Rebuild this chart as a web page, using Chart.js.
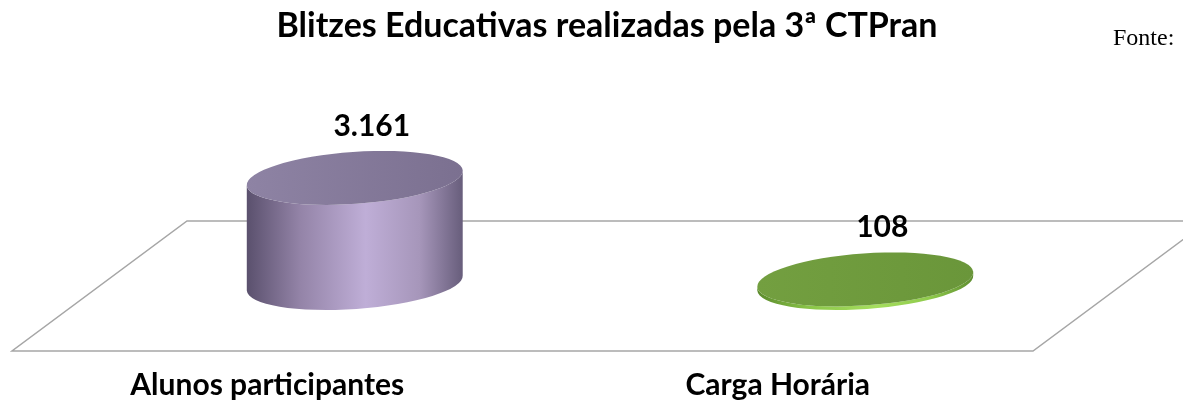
<!DOCTYPE html>
<html>
<head>
<meta charset="utf-8">
<script src="https://cdn.jsdelivr.net/npm/chart.js@4.4.1/dist/chart.umd.min.js"></script>
<style>
  html, body { margin: 0; padding: 0; background: #fff; }
  #wrap { width: 1183px; height: 408px; position: relative; }
</style>
</head>
<body>
<div id="wrap"><canvas id="grafico"></canvas></div>
<script>
// dados
const categorias = ['Alunos participantes', 'Carga Horária'];
const valores = [3161, 108];
const titulo = 'Blitzes Educativas realizadas pela 3ª CTPran';
const fonte = 'Fonte:';

// aparência 3D
const PROF_X = 175;      // deslocamento do fundo do piso
const PROF_Y = -130;
const BASE_Y = -68;      // base dos cilindros em relação à borda da frente
const INCL = -0.07;      // inclinação das elipses
const RAZAO_RY = 0.24;   // altura da elipse / raio horizontal
const FONTE = 'Lato, "Open Sans", sans-serif';

const cores = [
    { lado: ['#5a506d', '#9484a8', '#bfaed7', '#a696ba', '#675d7b'], topo: ['#8e83a4', '#7b7090'] },
    { lado: ['#5b8a2c', '#8cc74a', '#a5de5e', '#8fca4c', '#5f8e30'], topo: ['#739f40', '#6a963a'] }
];

function formata(v) {
    return String(v).replace(/\B(?=(\d{3})+(?!\d))/g, '.');
}

function cilindro(ctx, cx, yBase, yTopo, rx, ry, cor) {
    const ex = rx * Math.cos(INCL), ey = rx * Math.sin(INCL);

    // corpo
    const g = ctx.createLinearGradient(cx - rx, 0, cx + rx, 0);
    g.addColorStop(0, cor.lado[0]);
    g.addColorStop(0.25, cor.lado[1]);
    g.addColorStop(0.55, cor.lado[2]);
    g.addColorStop(0.8, cor.lado[3]);
    g.addColorStop(1, cor.lado[4]);
    ctx.beginPath();
    ctx.moveTo(cx + ex, yTopo + ey);
    ctx.lineTo(cx + ex, yBase + ey);
    ctx.ellipse(cx, yBase, rx, ry, INCL, 0, Math.PI, false);
    ctx.lineTo(cx - ex, yTopo - ey);
    ctx.ellipse(cx, yTopo, rx, ry, INCL, Math.PI, 0, true);
    ctx.closePath();
    ctx.fillStyle = g;
    ctx.fill();

    // tampa
    const gt = ctx.createLinearGradient(cx - rx, yTopo, cx + rx, yTopo);
    gt.addColorStop(0, cor.topo[0]);
    gt.addColorStop(1, cor.topo[1]);
    ctx.beginPath();
    ctx.ellipse(cx, yTopo, rx, ry, INCL, 0, Math.PI * 2);
    ctx.fillStyle = gt;
    ctx.fill();
}

const cilindros3d = {
    id: 'cilindros3d',
    beforeDatasetsDraw(chart) {
        const { ctx, chartArea } = chart;
        const x0 = chartArea.left, x1 = chartArea.right, y0 = chartArea.bottom;
        ctx.save();
        ctx.strokeStyle = '#a6a6a6';
        ctx.lineWidth = 1.5;
        ctx.beginPath();
        ctx.moveTo(x0, y0);
        ctx.lineTo(x1, y0);
        ctx.lineTo(x1 + PROF_X, y0 + PROF_Y);
        ctx.lineTo(x0 + PROF_X, y0 + PROF_Y);
        ctx.closePath();
        ctx.stroke();
        ctx.restore();
    },
    afterDatasetsDraw(chart) {
        const { ctx } = chart;
        const meta = chart.getDatasetMeta(0);
        ctx.save();
        meta.data.forEach((bar, i) => {
            const cx = bar.x + PROF_X / 2;
            const yBase = bar.base + BASE_Y;
            const yTopo = bar.y + BASE_Y;
            const rx = bar.width / 2;
            const ry = rx * RAZAO_RY;
            cilindro(ctx, cx, yBase, yTopo, rx, ry, cores[i]);
        });
        // rótulos de valor
        ctx.fillStyle = '#000';
        ctx.font = 'bold 30px ' + FONTE;
        ctx.textAlign = 'center';
        ctx.textBaseline = 'alphabetic';
        meta.data.forEach((bar, i) => {
            ctx.fillText(formata(valores[i]), bar.x + PROF_X / 2 + 17, bar.y + BASE_Y - 42);
        });
        // título e fonte
        ctx.font = 'bold 34px ' + FONTE;
        ctx.fillText(titulo, 607, 37);
        ctx.font = '24px "Liberation Serif", "Times New Roman", serif';
        ctx.textAlign = 'left';
        ctx.fillText(fonte, 1113, 45);
        ctx.restore();
    }
};

const ctx = document.getElementById('grafico').getContext('2d');
new Chart(ctx, {
    type: 'bar',
    data: {
        labels: categorias,
        datasets: [{
            data: valores,
            backgroundColor: 'rgba(0,0,0,0)',
            borderWidth: 0,
            barPercentage: 0.53,
            categoryPercentage: 0.8
        }]
    },
    options: {
        responsive: true,
        maintainAspectRatio: false,
        animation: false,
        layout: { padding: { left: 12, right: 150, top: 85, bottom: -11 } },
        plugins: {
            legend: { display: false },
            title: { display: false },
            tooltip: { enabled: false }
        },
        scales: {
            x: {
                grid: { display: false, drawTicks: false },
                border: { display: false },
                ticks: {
                    color: '#000',
                    padding: 16,
                    font: { family: FONTE, size: 30, weight: 'bold' }
                }
            },
            y: {
                display: false,
                min: 0,
                max: 8000
            }
        }
    },
    plugins: [cilindros3d]
});
</script>
</body>
</html>
